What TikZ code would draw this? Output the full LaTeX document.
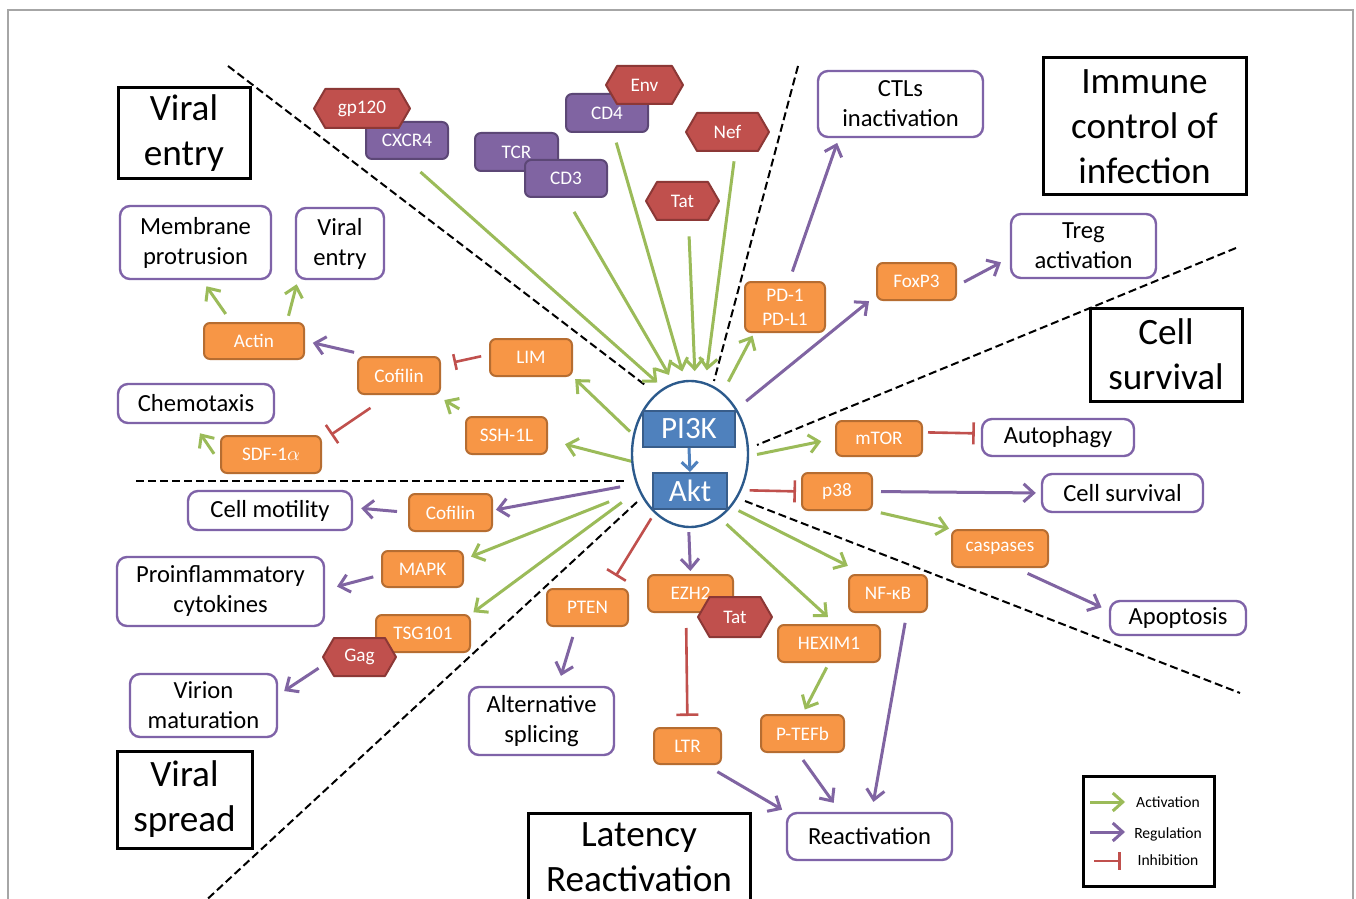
\documentclass[tikz,border=0pt]{standalone}
\usepackage{fontspec}
\setmainfont{Carlito}
\usetikzlibrary{arrows.meta,shapes.geometric}
\definecolor{orgF}{HTML}{F79646}
\definecolor{orgB}{HTML}{B66D31}
\definecolor{purF}{HTML}{8064A2}
\definecolor{purB}{HTML}{5C4776}
\definecolor{redF}{HTML}{C0504D}
\definecolor{redB}{HTML}{8C3836}
\definecolor{bluF}{HTML}{4F81BD}
\definecolor{bluB}{HTML}{385D8A}
\definecolor{ellB}{HTML}{2C5A8C}
\definecolor{grnA}{HTML}{9BBB59}
\definecolor{purA}{HTML}{8064A2}
\definecolor{redA}{HTML}{C0504D}
\definecolor{outB}{HTML}{7F63A8}
\definecolor{frameC}{HTML}{A6A6A6}
\tikzset{
 sz/.style 2 args={minimum width=#1*0.5pt, minimum height=#2*0.5pt},
 obox/.style={draw=orgB, fill=orgF, line width=1pt, rounded corners=3pt, text=white, inner sep=0pt, align=center, font=\fontsize{9.6}{12}\selectfont},
 rbox/.style={draw=purB, fill=purF, line width=1pt, rounded corners=3pt, text=white, inner sep=0pt, font=\fontsize{9.6}{12}\selectfont},
 hexs/.style={draw=redB, fill=redF, line width=1pt, line join=round},
 hext/.style={inner sep=0pt, text=white, font=\fontsize{9.6}{12}\selectfont},
 outbox/.style={draw=outB, fill=white, line width=1.2pt, rounded corners=5pt, inner sep=0pt, align=center, font=\fontsize{12.3}{15}\selectfont},
 catbox/.style={draw=black, fill=white, line width=1.5pt, inner sep=0pt, align=center, font=\fontsize{18.6}{22.5}\selectfont},
 bluebox/.style={draw=bluB, fill=bluF, line width=1pt, text=white, inner sep=0pt, font=\fontsize{15.5}{18}\selectfont},
 divline/.style={draw=black, line width=1pt, dash pattern=on 4pt off 2pt},
 act/.style={draw=grnA, line width=1.5pt, -{Straight Barb[length=5pt,width=9pt]}},
 reg/.style={draw=purA, line width=1.5pt, -{Straight Barb[length=5pt,width=9pt]}},
 inh/.style={draw=redA, line width=1.3pt, -{Bar[width=11pt]}},
 legtext/.style={inner sep=0pt, font=\fontsize{7.8}{9}\selectfont},
}
\newcommand\hexnode[6]{%
 \pgfmathsetmacro\hxl{#2-#4/2}\pgfmathsetmacro\hxr{#2+#4/2}%
 \pgfmathsetmacro\hxli{#2-#4/2+0.29*#5}\pgfmathsetmacro\hxri{#2+#4/2-0.29*#5}%
 \pgfmathsetmacro\hyt{#3-#5/2}\pgfmathsetmacro\hyb{#3+#5/2}%
 \path[hexs] (\hxl,#3) -- (\hxli,\hyt) -- (\hxri,\hyt) -- (\hxr,#3) -- (\hxri,\hyb) -- (\hxli,\hyb) -- cycle;
 \node[hext, sz={#4}{#5}] (#1) at (#2,#3) {#6};}
\begin{document}
\begin{tikzpicture}[x=0.5pt,y=-0.5pt]
\useasboundingbox (0,0) rectangle (1356,899);
\clip (0,0) rectangle (1356,899);
\fill[white] (0,0) rectangle (1356,899);
\draw[frameC, line width=0.75pt] (8,910) -- (8,10) -- (1353,10) -- (1353,910);
% dividers
\draw[divline] (228,66) -- (645,385);
\draw[divline] (798,66) -- (714,381);
\draw[divline] (1236,248) -- (757,445);
\draw[divline] (136,481) -- (625,481);
\draw[divline] (637,502) -- (201,905);
\draw[divline] (745,501) -- (1240,693);
% category boxes
\node[catbox, sz={132}{91}] (catVE) at (184,133.5) {Viral\\entry};
\node[catbox, sz={203}{137}] (catIC) at (1144.5,126.5) {Immune\\control of\\infection};
\node[catbox, sz={152}{93}] (catCS) at (1166,354.5) {Cell\\survival};
\node[catbox, sz={135}{97}] (catVS) at (184.5,799.5) {Viral\\spread};
\node[catbox, sz={222}{88}] (catLR) at (639,857) {Latency\\Reactivation};
% outcome boxes
\node[outbox, sz={151}{73}] (memb) at (195.5,242.5) {Membrane\\protrusion};
\node[outbox, sz={88}{71}] (ventry) at (340,243.5) {Viral\\entry};
\node[outbox, sz={165}{66}] (ctl) at (900.5,104) {CTLs\\inactivation};
\node[outbox, sz={145}{64}] (treg) at (1083.5,246) {Treg\\activation};
\node[outbox, sz={156}{39}] (chemo) at (196,403.5) {Chemotaxis};
\node[outbox, sz={164}{39}] (motil) at (270,510.5) {Cell motility};
\node[outbox, sz={207}{69}] (proinf) at (220.5,591.5) {Proinflammatory\\cytokines};
\node[outbox, sz={147}{63}] (virion) at (203.5,705.5) {Virion\\maturation};
\node[outbox, sz={145}{68}] (altsp) at (541.5,721) {Alternative\\splicing};
\node[outbox, sz={165}{47}] (react) at (869.5,836.5) {Reactivation};
\node[outbox, sz={152}{37}] (autoph) at (1058,437.5) {Autophagy};
\node[outbox, sz={161}{38}] (cellsurv) at (1122.5,493) {Cell survival};
\node[outbox, sz={136}{34}] (apopt) at (1178,618) {Apoptosis};
% orange signalling nodes
\node[obox, sz={100}{36}] (actin) at (254,341) {Actin};
\node[obox, sz={82}{37}] (cof1) at (399,375.5) {Cofilin};
\node[obox, sz={82}{37}] (lim) at (531,357.5) {LIM};
\node[obox, sz={81}{37}] (ssh) at (506.5,435.5) {SSH-1L};
\node[obox, sz={100}{37}] (sdf) at (271,454.5) {SDF-1$\alpha$};
\node[obox, sz={80}{50}] (pd1) at (785,307) {PD-1\\PD-L1};
\node[obox, sz={79}{37}] (foxp3) at (916.5,281.5) {FoxP3};
\node[obox, sz={86}{35}] (mtor) at (879,438.5) {mTOR};
\node[obox, sz={70}{37}] (p38) at (837,491.5) {p38};
\node[obox, sz={96}{37}] (casp) at (1000,548.5) {caspases};
\node[obox, sz={83}{37}] (cof2) at (450.5,512.5) {Cofilin};
\node[obox, sz={81}{36}] (mapk) at (422.5,569) {MAPK};
\node[obox, sz={94}{37}] (tsg) at (423,633.5) {TSG101};
\node[obox, sz={81}{37}] (pten) at (587.5,607.5) {PTEN};
\node[obox, sz={85}{37}] (ezh2) at (690.5,593.5) {EZH2};
\node[obox, sz={102}{37}] (hexim) at (829,643.5) {HEXIM1};
\node[obox, sz={78}{37}] (nfkb) at (888,593.5) {NF-κB};
\node[obox, sz={67}{36}] (ltr) at (687.5,746) {LTR};
\node[obox, sz={83}{37}] (ptefb) at (802.5,733.5) {P-TEFb};
% receptors
\node[rbox, sz={82}{37}] (cxcr4) at (407,140.5) {CXCR4};
\node[rbox, sz={82}{38}] (cd4) at (607,113) {CD4};
\node[rbox, sz={83}{38}] (tcr) at (516.5,152) {TCR};
\node[rbox, sz={82}{37}] (cd3) at (566,178.5) {CD3};
% viral proteins
\hexnode{gp120}{362}{108.5}{96}{39}{gp120}
\hexnode{env}{644.5}{85}{77}{38}{Env}
\hexnode{nef}{727.5}{132}{83}{38}{Nef}
\hexnode{tatA}{682.5}{201}{73}{38}{Tat}
\hexnode{tatB}{735}{617}{74}{40}{Tat}
\hexnode{gag}{359.5}{657}{73}{38}{Gag}
% hub
\node[draw=ellB, line width=1.2pt, fill=white, ellipse, sz={116}{146}, inner sep=0pt] (hub) at (690,454) {};
\node[bluebox, sz={92}{36}] (pi3k) at (689,429) {PI3K};
\node[bluebox, sz={74}{36}] (akt) at (690,491) {Akt};
\draw[draw=bluF, line width=1.5pt, -{Straight Barb[length=4pt,width=8pt]}] (pi3k.south) -- (akt.north);
% inputs
\draw[act, shorten <=9pt, shorten >=4pt] (cxcr4.south) -- (hub.112);
\draw[act, shorten <=8pt, shorten >=4.5pt] (cd3.south) -- (hub.103);
\draw[act, shorten <=5pt, shorten >=4.5pt] (cd4.-72) -- (hub.94);
\draw[act, shorten <=8pt, shorten >=4.5pt] (tatA.-73) -- (hub.86);
\draw[act, shorten <=5pt, shorten >=6pt] (nef.-68) -- (hub.78);
% immune control
\draw[act, shorten <=6pt, shorten >=1.5pt] (hub.62) -- (pd1.-140);
\draw[reg, shorten <=6pt, shorten >=4.5pt] (hub.44.5) -- (foxp3.199);
\draw[reg, shorten <=5pt, shorten >=2.5pt] (pd1.81) -- (ctl.-151);
\draw[reg, shorten <=4pt, shorten >=5pt] (foxp3.-6) -- (treg.189);
% cell survival
\draw[act, shorten <=4pt, shorten >=7pt] (hub.-2) -- (mtor.west);
\draw[inh, shorten <=2.5pt, shorten >=3pt] (mtor.8) -- (autoph.177);
\draw[inh, shorten <=4pt, shorten >=2.5pt] (hub.-35) -- (p38.west);
\draw[reg, shorten <=4pt, shorten >=2.5pt] (p38.east) -- (cellsurv.west);
\draw[act, shorten <=4pt, shorten >=1pt] (p38.south east) -- (casp.north west);
\draw[reg, shorten <=6.5pt, shorten >=4pt] (casp.-51) -- (apopt.174);
% latency reactivation
\draw[act, shorten <=4pt, shorten >=9pt] (hub.-52) -- (nfkb.141);
\draw[act, shorten <=4.5pt, shorten >=5pt] (hub.-65) -- (hexim.72);
\draw[reg, shorten <=2pt, shorten >=1.5pt] (hub.-91) -- (ezh2.north);
\draw[inh, shorten <=3pt, shorten >=7pt] (hub.-121) -- (pten.43);
\draw[reg, shorten <=5.2pt, shorten >=5.2pt] (pten.-121.4) -- (altsp.65.8);
\draw[inh, shorten <=7.5pt, shorten >=5.5pt] (ezh2.-103.7) -- (ltr.north);
\draw[act, shorten <=2.5pt, shorten >=2.5pt] (hexim.south) -- (ptefb.north);
\draw[reg, shorten <=6.7pt, shorten >=2.1pt] (ltr.-46.5) -- (react.north west);
\draw[reg, shorten <=4.3pt, shorten >=5.5pt] (ptefb.-103.7) -- (react.140);
\draw[reg, shorten <=5pt, shorten >=5pt] (nfkb.-46.3) -- (react.85.6);
% viral spread
\draw[reg, shorten <=8pt, shorten >=1.5pt] (hub.209) -- (cof2.3);
\draw[act, shorten <=15.7pt, shorten >=3.8pt] (hub.215) -- (mapk.13);
\draw[act, shorten <=10.3pt, shorten >=1.5pt] (hub.215) -- (tsg.north east);
\draw[reg, shorten <=5.5pt, shorten >=4pt] (cof2.west) -- (motil.2);
\draw[reg, shorten <=4pt, shorten >=6.1pt] (mapk.188.6) -- (proinf.1.5);
\draw[reg, shorten <=2.4pt, shorten >=3.6pt] (gag.193) -- (virion.8.3);
% viral entry
\draw[act, shorten >=8.8pt] (hub.187) -- (ssh.-6);
\draw[act, shorten <=2pt, shorten >=1.5pt] (hub.161) -- (lim.south east);
\draw[inh, -{Bar[width=8pt]}, shorten <=4pt, shorten >=6.5pt] (lim.176) -- (cof1.14);
\draw[act, shorten <=7pt, shorten >=5pt] (ssh.151) -- (cof1.-28);
\draw[reg, shorten <=8.2pt, shorten >=4pt] (cof1.146) -- (actin.east);
\draw[inh, shorten <=11.5pt, shorten >=5.4pt] (cof1.-116) -- (sdf.15);
\draw[act, shorten <=5.3pt, shorten >=5.5pt] (sdf.189) -- (chemo.-96);
\draw[act, shorten <=4.9pt, shorten >=3.7pt] (actin.140) -- (memb.-80);
\draw[act, shorten <=3.2pt, shorten >=2.1pt] (actin.30) -- (ventry.-139);
% legend
\node[draw=black, line width=1.5pt, sz={131}{110}] (legend) at (1148.5,831) {};
\coordinate (la1) at (1090,802); \coordinate (lb1) at (1125,802);
\coordinate (la2) at (1090,832); \coordinate (lb2) at (1125,832);
\coordinate (la3) at (1094,861); \coordinate (lb3) at (1121,861);
\draw[act] (la1) -- (lb1);
\draw[reg] (la2) -- (lb2);
\draw[inh, -{Bar[width=9pt]}] (la3) -- (lb3);
\node[legtext] (lt1) at (1168,802) {Activation};
\node[legtext] (lt2) at (1168,834) {Regulation};
\node[legtext] (lt3) at (1168,860) {Inhibition};
\end{tikzpicture}
\end{document}
